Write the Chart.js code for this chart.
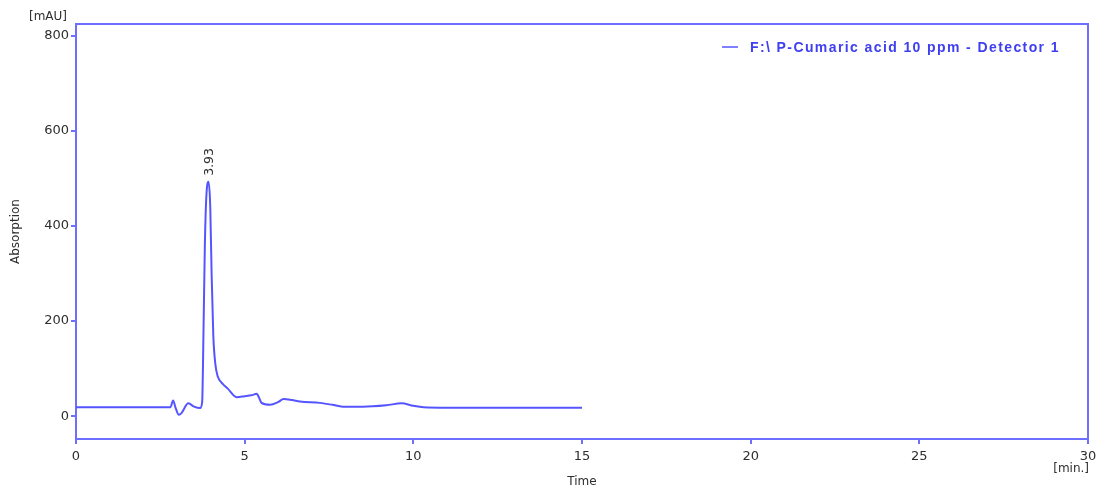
<!DOCTYPE html>
<html>
<head>
<meta charset="utf-8">
<script src="https://cdn.jsdelivr.net/npm/chart.js@4/dist/chart.umd.min.js"></script>
<style>
  html, body { margin: 0; padding: 0; background: #fff; }
  #wrap { width: 1099px; height: 489px; }
</style>
</head>
<body>
<div id="wrap"><canvas id="chrom" width="1099" height="489"></canvas></div>
<script>
// retention time (min)
const times = [0, 1, 2, 2.8, 2.88, 2.95, 3.05, 3.12, 3.33, 3.5, 3.68, 3.74,
  3.78, 3.82, 3.87, 3.93, 3.98, 4.02, 4.07, 4.13, 4.2, 4.35, 4.5, 4.76,
  5.0, 5.2, 5.36, 5.42, 5.5, 5.75, 6.0, 6.15, 6.4, 6.64, 7.23, 7.6, 7.9,
  8.5, 9.2, 9.65, 10.0, 10.3, 11, 12, 13, 14, 15];
// absorption (mAU)
const absorb = [19, 19, 19, 19, 33, 18, 3, 6, 27, 20, 17, 30,
  180, 360, 470, 493, 440, 300, 170, 110, 84, 68, 58, 40,
  42, 44, 47, 40, 28, 24, 30, 36, 34, 31, 28, 24, 20,
  20, 23, 27, 22, 19, 18, 18, 18, 18, 18];
const seriesName = 'F:\\ P-Cumaric acid 10 ppm - Detector 1';
const peakTimes = [3.93];
const peakValues = [493];
const xTicks = [0, 5, 10, 15, 20, 25, 30];
const yTicks = [0, 200, 400, 600, 800];

const blue = '#5555ff';
const axisBlue = '#6e6eff';
const textGray = '#2e2e2e';
const tickFont = { family: 'DejaVu Sans', size: 13 };

const points = times.map((t, i) => ({ x: t, y: absorb[i] }));

const extras = {
  id: 'extras',
  afterDraw(chart) {
    const { ctx, chartArea: a, scales } = chart;
    ctx.save();
    // frame top and right
    ctx.strokeStyle = axisBlue;
    ctx.lineWidth = 2;
    ctx.beginPath();
    ctx.moveTo(a.left, a.top);
    ctx.lineTo(a.right, a.top);
    ctx.lineTo(a.right, a.bottom);
    ctx.stroke();

    // units
    ctx.fillStyle = textGray;
    ctx.font = '12px "DejaVu Sans"';
    ctx.textAlign = 'right';
    ctx.textBaseline = 'middle';
    ctx.fillText('[mAU]', a.left - 9, 17);
    ctx.fillText('[min.]', a.right + 1, 469);

    // peak label
    peakTimes.forEach((t, i) => {
      const px = scales.x.getPixelForValue(t);
      const py = scales.y.getPixelForValue(peakValues[i]);
      ctx.save();
      ctx.translate(px + 1, py - 6);
      ctx.rotate(-Math.PI / 2);
      ctx.textAlign = 'left';
      ctx.textBaseline = 'middle';
      ctx.font = '12.5px "DejaVu Sans"';
      ctx.fillText(t.toFixed(2), 0, 0);
      ctx.restore();
    });

    // legend
    ctx.strokeStyle = blue;
    ctx.lineWidth = 1.5;
    ctx.beginPath();
    ctx.moveTo(722, 47);
    ctx.lineTo(738, 47);
    ctx.stroke();
    ctx.fillStyle = '#4040f0';
    ctx.font = 'bold 14px "Liberation Sans"';
    ctx.letterSpacing = '1.4px';
    ctx.textAlign = 'left';
    ctx.fillText(seriesName, 750, 48);
    ctx.restore();
  }
};

new Chart(document.getElementById('chrom'), {
  type: 'line',
  data: {
    datasets: [{
      label: seriesName,
      data: points,
      borderColor: blue,
      borderWidth: 2,
      pointRadius: 0,
      cubicInterpolationMode: 'monotone',
      fill: false,
    }],
  },
  options: {
    responsive: false,
    animation: false,
    layout: { padding: { left: 9, right: 11, top: 24, bottom: 0 } },
    plugins: { legend: { display: false }, tooltip: { enabled: false } },
    scales: {
      x: {
        type: 'linear',
        min: 0,
        max: 30,
        afterBuildTicks: (axis) => { axis.ticks = xTicks.map(v => ({ value: v })); },
        afterFit: (axis) => { axis.height = 50; axis.paddingLeft = 0; axis.paddingRight = 0; },
        border: { color: axisBlue, width: 2 },
        grid: { drawOnChartArea: false, drawTicks: true, tickLength: 5, color: axisBlue, lineWidth: 2 },
        ticks: { color: textGray, font: tickFont, padding: 5, maxRotation: 0 },
        title: { display: true, text: 'Time', color: textGray, font: { family: 'DejaVu Sans', size: 12 }, padding: { top: 12, bottom: 0 } },
      },
      y: {
        type: 'linear',
        min: -48,
        max: 825,
        afterBuildTicks: (axis) => { axis.ticks = yTicks.map(v => ({ value: v })); },
        afterFit: (axis) => { axis.width = 67; axis.paddingTop = 0; axis.paddingBottom = 0; },
        border: { color: axisBlue, width: 2 },
        grid: { drawOnChartArea: false, drawTicks: true, tickLength: 5, color: axisBlue, lineWidth: 2 },
        ticks: { color: textGray, font: tickFont, padding: 2 },
        title: { display: true, text: 'Absorption', color: textGray, font: { family: 'DejaVu Sans', size: 12 }, padding: { top: 0, bottom: 0 } },
      },
    },
  },
  plugins: [extras],
});
</script>
</body>
</html>
